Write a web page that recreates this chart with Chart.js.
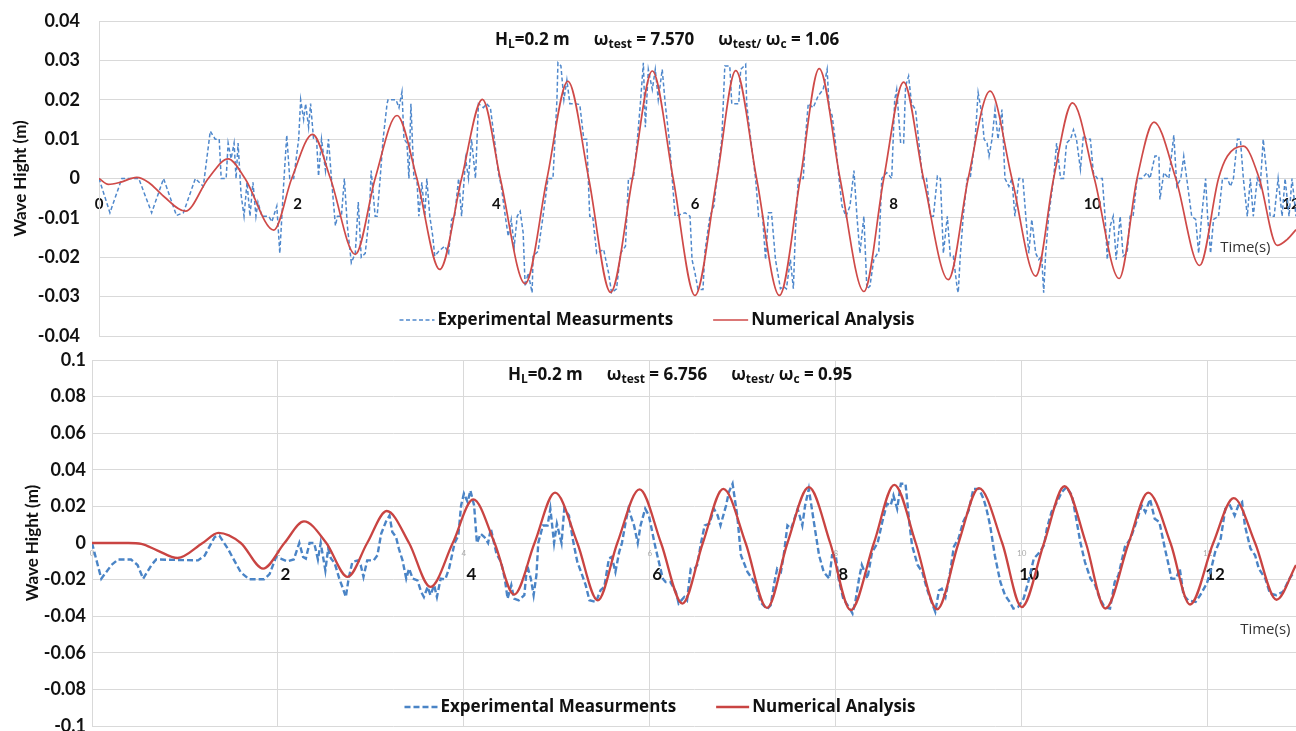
<!DOCTYPE html>
<html lang="en">
<head>
<meta charset="UTF-8">
<title>Wave height - experiment vs numerical analysis</title>
<script src="https://cdn.jsdelivr.net/npm/chart.js@4"></script>
<style>
  body { margin: 0; background: #fff; }
  .panel { position: absolute; left: 0; width: 1296px; }
  #topWrap { top: 0; height: 347px; }
  #bottomWrap { top: 347px; height: 384px; }
</style>
</head>
<body>
<div class="panel" id="topWrap"><canvas id="topChart"></canvas></div>
<div class="panel" id="bottomWrap"><canvas id="bottomChart"></canvas></div>

<script>
const FONT = 'Lato, "Open Sans", sans-serif';
const TEXT_FONT = '"Open Sans", Lato, sans-serif';

// ---- top panel: w_test = 7.570 ----  [time (s), wave height (m)]
const expTop = [[0,0],[0.11,-0.0087],[0.23,0],[0.40,0],[0.53,-0.0087],[0.65,0],[0.78,-0.0094],[0.85,-0.0087],[0.97,0],[1.05,-0.002],[1.12,0.012],[1.17,0.01],[1.21,0.01],[1.23,0],[1.28,0],[1.30,0.009],[1.33,0.005],[1.36,0.009],[1.38,0],[1.40,0.009],[1.43,-0.004],[1.46,-0.0096],[1.49,-0.001],[1.52,-0.0096],[1.55,-0.001],[1.58,-0.0096],[1.60,-0.006],[1.64,-0.0096],[1.71,-0.0096],[1.74,-0.011],[1.79,-0.007],[1.82,-0.019],[1.86,-0.001],[1.89,0.011],[1.92,0],[1.96,0],[2.01,0.01],[2.03,0.02],[2.06,0.015],[2.08,0.019],[2.11,0.013],[2.13,0.019],[2.16,0.01],[2.19,0.01],[2.21,0.0006],[2.24,0.01],[2.28,0.002],[2.31,0.01],[2.34,0],[2.38,-0.012],[2.40,-0.0096],[2.44,-0.0096],[2.47,0],[2.50,-0.012],[2.54,-0.0214],[2.58,-0.019],[2.61,-0.006],[2.64,-0.02],[2.68,-0.019],[2.72,-0.0096],[2.74,0.002],[2.78,-0.0096],[2.80,-0.0096],[2.83,0],[2.86,0.01],[2.90,0.019],[2.91,0.02],[2.99,0.02],[3.02,0.018],[3.05,0.022],[3.07,0.01],[3.10,0.009],[3.12,0],[3.14,0.019],[3.17,0],[3.20,0],[3.22,-0.0096],[3.25,-0.001],[3.28,-0.0096],[3.30,0],[3.33,-0.0096],[3.36,-0.0147],[3.38,-0.0197],[3.42,-0.0185],[3.48,-0.0172],[3.52,-0.019],[3.55,-0.0104],[3.58,-0.0096],[3.62,0],[3.65,-0.0096],[3.69,0.005],[3.72,0],[3.75,0.01],[3.79,0],[3.82,0.019],[3.87,0.018],[3.90,0.019],[3.94,0.018],[3.98,0.01],[4.02,0.0015],[4.05,-0.002],[4.09,-0.0096],[4.12,-0.0147],[4.15,-0.0104],[4.18,-0.0172],[4.21,-0.0096],[4.24,-0.0083],[4.27,-0.0138],[4.29,-0.0274],[4.32,-0.024],[4.36,-0.029],[4.37,-0.0197],[4.42,-0.0185],[4.47,-0.0096],[4.52,0],[4.57,0],[4.61,0.02],[4.62,0.0294],[4.65,0.0286],[4.68,0.02],[4.71,0.025],[4.74,0.019],[4.79,0.019],[4.84,0.0188],[4.88,0.01],[4.91,0.01],[4.94,-0.0096],[4.97,-0.0096],[5.01,-0.019],[5.08,-0.018],[5.13,-0.024],[5.16,-0.029],[5.21,-0.028],[5.25,-0.019],[5.30,-0.0172],[5.33,0],[5.38,0],[5.42,0.01],[5.45,0.019],[5.48,0.0294],[5.50,0.013],[5.53,0.0277],[5.57,0.0226],[5.60,0.0277],[5.63,0.02],[5.67,0.0277],[5.70,0.019],[5.74,0.01],[5.77,0],[5.80,-0.0096],[5.90,-0.0087],[5.95,-0.0096],[5.97,-0.0206],[6.00,-0.024],[6.03,-0.0282],[6.08,-0.0282],[6.10,-0.0185],[6.15,-0.0096],[6.19,-0.007],[6.22,0],[6.27,0.01],[6.30,0.0286],[6.35,0.0286],[6.37,0.019],[6.44,0.019],[6.46,0.0277],[6.51,0.029],[6.52,0.019],[6.56,0.01],[6.61,0],[6.64,-0.0096],[6.68,-0.0096],[6.71,-0.0206],[6.74,-0.0087],[6.77,-0.0087],[6.81,-0.0206],[6.86,-0.028],[6.89,-0.0274],[6.92,-0.028],[6.96,-0.0206],[6.99,-0.028],[7.01,-0.0138],[7.04,0],[7.09,0],[7.11,0.01],[7.14,0.019],[7.19,0.018],[7.24,0.021],[7.29,0.0226],[7.33,0.0277],[7.35,0.018],[7.38,0.016],[7.41,0.01],[7.45,0],[7.48,-0.007],[7.52,-0.0096],[7.56,-0.007],[7.60,0.002],[7.63,-0.0096],[7.66,-0.019],[7.70,-0.0096],[7.73,-0.028],[7.76,-0.0274],[7.80,-0.0206],[7.85,-0.0185],[7.88,0],[7.93,0.0015],[7.98,0],[8.01,0.02],[8.03,0.0226],[8.07,0.009],[8.10,0.009],[8.12,0.0235],[8.15,0.026],[8.18,0.019],[8.22,0.0175],[8.25,0.01],[8.29,0],[8.33,0],[8.37,-0.0096],[8.40,-0.0096],[8.44,0.0006],[8.47,0],[8.50,-0.019],[8.54,-0.0096],[8.57,-0.0197],[8.60,-0.0197],[8.64,-0.028],[8.65,-0.029],[8.67,-0.0197],[8.70,-0.0096],[8.74,0],[8.77,0],[8.82,0.01],[8.85,0.0218],[8.89,0.016],[8.91,0.01],[8.94,0.009],[8.96,0.0057],[8.99,0.01],[9.02,0.0175],[9.05,0.01],[9.09,0.0175],[9.12,0],[9.16,-0.002],[9.19,0],[9.22,-0.0096],[9.26,0],[9.30,0],[9.33,-0.0096],[9.36,-0.019],[9.39,-0.0104],[9.43,-0.019],[9.46,-0.0206],[9.49,-0.0197],[9.51,-0.029],[9.53,-0.019],[9.56,-0.0096],[9.61,0],[9.64,0.009],[9.68,0],[9.71,0],[9.74,0.009],[9.78,0.01],[9.81,0.0124],[9.84,0.01],[9.88,0.0023],[9.91,0.011],[9.94,0.01],[9.98,0.01],[10.01,0.0015],[10.05,0],[10.10,0],[10.13,-0.0104],[10.15,-0.0206],[10.18,-0.012],[10.21,-0.0096],[10.24,-0.0206],[10.28,-0.0096],[10.31,-0.0197],[10.35,-0.019],[10.38,-0.0096],[10.41,-0.0096],[10.45,0],[10.50,0],[10.55,0.0015],[10.58,0],[10.63,0.0057],[10.67,0.0057],[10.68,-0.0053],[10.72,0.0015],[10.77,0],[10.82,0.011],[10.85,-0.002],[10.89,0],[10.92,0.0057],[10.95,0],[11.00,-0.0096],[11.04,-0.0104],[11.07,-0.019],[11.10,-0.0096],[11.14,0],[11.16,-0.0096],[11.19,-0.019],[11.22,-0.0104],[11.27,-0.0096],[11.31,0],[11.36,0],[11.39,-0.002],[11.42,0],[11.46,0.01],[11.49,0.01],[11.52,0],[11.56,-0.0096],[11.59,0],[11.62,-0.0096],[11.66,0],[11.69,-0.002],[11.72,0.01],[11.76,0],[11.79,-0.0096],[11.83,-0.0096],[11.87,0],[11.91,-0.0096],[11.94,0],[11.98,-0.0096],[12.01,0],[12.05,-0.0096]];

const numTop = [[0,0],[0.094,-0.0015],[0.21,-0.001],[0.38,0.0003],[0.50,-0.001],[0.65,-0.0045],[0.87,-0.0083],[1.10,0],[1.30,0.005],[1.47,0],[1.76,-0.0131],[1.94,0],[2.15,0.0112],[2.33,0],[2.58,-0.0193],[2.78,0],[3.00,0.016],[3.20,0],[3.43,-0.0231],[3.65,0],[3.86,0.0201],[4.04,0],[4.29,-0.0267],[4.51,0],[4.72,0.0247],[4.93,0],[5.15,-0.0289],[5.37,0],[5.57,0.0273],[5.78,0],[6.00,-0.0297],[6.22,0],[6.41,0.0274],[6.62,0],[6.85,-0.0297],[7.06,0],[7.25,0.0279],[7.46,0],[7.70,-0.0287],[7.90,0],[8.10,0.0245],[8.30,0],[8.55,-0.0257],[8.75,0],[8.97,0.0222],[9.19,0],[9.43,-0.0248],[9.61,0],[9.80,0.0192],[10.02,0],[10.27,-0.0254],[10.45,0],[10.62,0.0143],[10.84,0],[11.08,-0.0221],[11.27,0],[11.36,0.0057],[11.52,0.0082],[11.68,0],[11.86,-0.017],[11.96,-0.0155],[12.05,-0.013]];

// ---- bottom panel: w_test = 6.756 ----
const expBottom = [[0,0],[0.10,-0.0195],[0.21,-0.012],[0.28,-0.009],[0.42,-0.009],[0.49,-0.012],[0.55,-0.0195],[0.64,-0.012],[0.69,-0.009],[1.14,-0.0095],[1.21,-0.007],[1.32,0.0033],[1.37,0.004],[1.46,-0.003],[1.60,-0.016],[1.69,-0.0198],[1.85,-0.0198],[1.91,-0.017],[1.98,-0.0076],[2.03,-0.0085],[2.10,-0.01],[2.17,-0.009],[2.23,0],[2.27,-0.0076],[2.30,-0.0085],[2.34,0],[2.39,0],[2.43,-0.009],[2.46,0],[2.51,-0.015],[2.54,-0.003],[2.57,-0.0085],[2.61,-0.011],[2.66,-0.0195],[2.70,-0.025],[2.73,-0.0295],[2.76,-0.0195],[2.80,-0.0104],[2.86,-0.0095],[2.89,-0.012],[2.92,-0.0185],[2.96,-0.0095],[3.03,-0.0095],[3.07,-0.0067],[3.11,0.005],[3.16,0.0115],[3.20,0.015],[3.23,0.006],[3.27,0.0033],[3.30,-0.003],[3.34,-0.0095],[3.38,-0.0195],[3.41,-0.014],[3.45,-0.0195],[3.50,-0.0204],[3.54,-0.0267],[3.57,-0.0295],[3.61,-0.024],[3.64,-0.0285],[3.68,-0.0231],[3.71,-0.0295],[3.75,-0.0195],[3.80,-0.0198],[3.84,-0.014],[3.86,-0.0095],[3.90,0],[3.94,0.004],[3.97,0.0205],[4.00,0.027],[4.04,0.0224],[4.07,0.0287],[4.11,0.0205],[4.14,0],[4.18,0.005],[4.22,0.0033],[4.26,0],[4.29,0.0078],[4.35,-0.0058],[4.40,-0.0104],[4.44,-0.0195],[4.47,-0.0304],[4.51,-0.023],[4.54,-0.0304],[4.59,-0.0313],[4.65,-0.0285],[4.68,-0.012],[4.72,-0.0195],[4.75,-0.0285],[4.78,-0.0176],[4.80,0],[4.85,0.0096],[4.90,0.0096],[4.93,0.0187],[4.97,0],[5.00,0.0105],[5.05,0],[5.08,0.0187],[5.13,0.015],[5.17,0.0024],[5.22,-0.0104],[5.26,-0.0158],[5.31,-0.023],[5.35,-0.0313],[5.42,-0.0322],[5.47,-0.0258],[5.51,-0.024],[5.56,-0.0085],[5.59,-0.0076],[5.63,-0.0158],[5.67,-0.005],[5.70,0],[5.74,0.0115],[5.77,0.0187],[5.83,0.0096],[5.87,0],[5.90,0.0096],[5.95,0.0187],[5.99,0.015],[6.05,0],[6.08,-0.0067],[6.14,-0.0195],[6.17,-0.0213],[6.22,-0.0213],[6.28,-0.0267],[6.31,-0.033],[6.37,-0.0295],[6.40,-0.0313],[6.44,-0.014],[6.48,-0.014],[6.51,-0.012],[6.55,0],[6.59,0.0096],[6.64,0.0105],[6.69,0.0187],[6.73,0.015],[6.76,0.0096],[6.82,0.0205],[6.85,0.0278],[6.89,0.0324],[6.94,0.015],[6.98,-0.0067],[7.05,-0.0158],[7.10,-0.0195],[7.14,-0.023],[7.19,-0.0322],[7.26,-0.0362],[7.30,-0.034],[7.34,-0.0213],[7.37,-0.014],[7.41,-0.0158],[7.44,-0.0067],[7.48,0.0096],[7.52,0.0078],[7.59,0.0187],[7.64,0.0096],[7.67,0.0205],[7.71,0.0296],[7.77,0.0096],[7.82,-0.0067],[7.87,-0.0158],[7.93,-0.0195],[7.96,-0.0067],[8.00,-0.0067],[8.03,-0.0195],[8.08,-0.0304],[8.14,-0.035],[8.18,-0.0385],[8.21,-0.0322],[8.25,-0.0195],[8.28,-0.012],[8.34,-0.0195],[8.39,-0.005],[8.45,0],[8.50,0.0115],[8.55,0.0215],[8.59,0.0205],[8.62,0.026],[8.66,0.0187],[8.70,0.0324],[8.75,0.0324],[8.79,0.0115],[8.82,-0.0013],[8.88,-0.012],[8.93,-0.0158],[8.98,-0.025],[9.03,-0.0322],[9.07,-0.0376],[9.11,-0.026],[9.14,-0.025],[9.18,-0.0295],[9.23,-0.0158],[9.27,-0.002],[9.32,0.0024],[9.37,0.0115],[9.43,0.0178],[9.48,0.0296],[9.54,0.0296],[9.59,0.024],[9.62,0.0187],[9.66,0.0096],[9.71,-0.0067],[9.77,-0.0213],[9.82,-0.0285],[9.87,-0.0322],[9.91,-0.0358],[9.96,-0.035],[10.02,-0.0304],[10.07,-0.0213],[10.13,-0.0085],[10.18,-0.0058],[10.24,-0.0013],[10.27,0.0078],[10.32,0.0169],[10.38,0.0224],[10.43,0.0278],[10.48,0.0305],[10.54,0.026],[10.58,0.015],[10.63,0.0005],[10.68,-0.0104],[10.74,-0.0195],[10.79,-0.023],[10.84,-0.0304],[10.89,-0.035],[10.95,-0.0358],[11.00,-0.0213],[11.04,-0.0176],[11.11,-0.002],[11.17,0.0024],[11.22,0.0096],[11.29,0.0205],[11.33,0.0169],[11.38,0.024],[11.43,0.0133],[11.48,0.0115],[11.54,-0.003],[11.58,-0.012],[11.61,-0.0195],[11.66,-0.0195],[11.70,-0.014],[11.74,-0.0285],[11.79,-0.0313],[11.87,-0.0322],[11.92,-0.0285],[11.99,-0.0222],[12.03,-0.0158],[12.08,-0.005],[12.14,0.0024],[12.19,0.0187],[12.24,0.0205],[12.29,0.015],[12.33,0.0205],[12.37,0.0224],[12.40,0.0096],[12.46,-0.003],[12.51,-0.0067],[12.55,-0.014],[12.62,-0.0195],[12.67,-0.0276],[12.74,-0.0285],[12.81,-0.0267],[12.88,-0.0195],[12.93,-0.0158]];

const numBottom = [[0,0],[0.39,0],[0.53,-0.0005],[0.70,-0.004],[0.92,-0.0082],[1.19,0],[1.36,0.0055],[1.60,0],[1.84,-0.014],[2.07,0],[2.28,0.0118],[2.52,0],[2.75,-0.0185],[2.96,0],[3.17,0.0175],[3.41,0],[3.64,-0.024],[3.88,0],[4.10,0.0238],[4.33,0],[4.54,-0.0282],[4.76,0],[4.98,0.0275],[5.22,0],[5.44,-0.0313],[5.65,0],[5.89,0.0293],[6.12,0],[6.35,-0.0331],[6.57,0],[6.79,0.0296],[7.03,0],[7.26,-0.0355],[7.48,0],[7.71,0.0305],[7.94,0],[8.16,-0.0367],[8.41,0],[8.63,0.0318],[8.86,0],[9.09,-0.0362],[9.32,0],[9.54,0.030],[9.79,0],[10.00,-0.035],[10.24,0],[10.46,0.031],[10.69,0],[10.90,-0.0358],[11.15,0],[11.36,0.0275],[11.60,0],[11.81,-0.0336],[12.06,0],[12.28,0.0245],[12.51,0],[12.74,-0.031],[12.95,-0.012]];

const seriesNames = ['Experimental Measurments', 'Numerical Analysis'];
const headingTop = [['H','n'],['L','s'],['=0.2 m','n'],['','g'],['ω','n'],['test','s'],[' = 7.570','n'],['','g'],['ω','n'],['test/','s'],[' ω','n'],['c','s'],[' = 1.06','n']];
const headingBottom = [['H','n'],['L','s'],['=0.2 m','n'],['','g'],['ω','n'],['test','s'],[' = 6.756','n'],['','g'],['ω','n'],['test/','s'],[' ω','n'],['c','s'],[' = 0.95','n']];

const toXY = arr => arr.map(p => ({ x: p[0], y: p[1] }));

// heading with subscripts, line legend and the Time(s) note, drawn inside the plot
const overlay = {
  id: 'overlay',
  afterDatasetsDraw(chart, _args, o) {
    const { ctx, scales } = chart;
    ctx.save();
    ctx.textBaseline = 'middle';
    ctx.textAlign = 'left';
    ctx.fillStyle = '#111';
    const fMain = `bold ${o.headSize}px ${TEXT_FONT}`, fSub = `bold ${o.subSize}px ${TEXT_FONT}`;
    const partW = p => {
      if (p[1] === 'g') return o.gap;
      ctx.font = p[1] === 's' ? fSub : fMain;
      return ctx.measureText(p[0]).width;
    };
    let x = o.headX - o.heading.reduce((s, p) => s + partW(p), 0) / 2;
    o.heading.forEach(p => {
      const w = partW(p);
      if (p[1] !== 'g') ctx.fillText(p[0], x, o.headY + (p[1] === 's' ? o.subDrop : 0));
      x += w;
    });

    ctx.font = `bold ${o.legendSize}px ${TEXT_FONT}`;
    const items = chart.data.datasets.map(d => ({ d, w: ctx.measureText(d.label).width }));
    const legW = items.reduce((s, it) => s + o.sample + o.sampleGap + it.w, 0) + o.itemGap * (items.length - 1);
    x = o.legendX - legW / 2;
    items.forEach(({ d, w }) => {
      ctx.beginPath();
      ctx.setLineDash(d.borderDash || []);
      ctx.lineWidth = d.borderWidth;
      ctx.strokeStyle = d.borderColor;
      ctx.moveTo(x, o.legendY);
      ctx.lineTo(x + o.sample, o.legendY);
      ctx.stroke();
      ctx.setLineDash([]);
      x += o.sample + o.sampleGap;
      ctx.fillText(d.label, x, o.legendY);
      x += w + o.itemGap;
    });

    ctx.font = `${o.noteSize}px ${TEXT_FONT}`;
    ctx.fillStyle = '#333';
    ctx.textAlign = 'center';
    ctx.fillText('Time(s)', scales.x.getPixelForValue(o.noteAt[0]), scales.y.getPixelForValue(o.noteAt[1]));
    ctx.restore();
  }
};

const GRID = '#d9d9d9';
const yLabel = v => String(+v.toFixed(3));

function yAxis(min, max, step, pad, width) {
  return {
    min, max,
    ticks: { stepSize: step, callback: yLabel, padding: pad, color: '#111', font: { family: FONT, size: 18, weight: 'bold' } },
    grid: { color: GRID, drawTicks: false },
    border: { display: true, color: GRID },
    title: { display: true, text: 'Wave Hight (m)', color: '#111', font: { family: FONT, size: 17, weight: 'bold' }, padding: { top: 4, bottom: 0 } },
    afterFit(s) { s.width = width; s.paddingTop = 0; s.paddingBottom = 0; }
  };
}
const noPad = s => { s.paddingLeft = 0; s.paddingRight = 0; };

new Chart(document.getElementById('topChart'), {
  type: 'line',
  data: {
    datasets: [
      { label: seriesNames[0], data: toXY(expTop), borderColor: '#4f88cc', borderWidth: 1.5, borderDash: [4, 2.5], pointRadius: 0, tension: 0, order: 1 },
      { label: seriesNames[1], data: toXY(numTop), borderColor: '#cf4a48', borderWidth: 1.7, pointRadius: 0, cubicInterpolationMode: 'monotone', order: 0 }
    ]
  },
  plugins: [overlay],
  options: {
    responsive: true, maintainAspectRatio: false, animation: false, events: [],
    layout: { padding: { left: 6, top: 21, right: 0, bottom: 11 } },
    scales: {
      x: {
        type: 'linear', min: 0, max: 12.05, position: { y: 0 },
        grid: { display: false, drawTicks: false },
        border: { display: true, color: GRID },
        ticks: { stepSize: 2, includeBounds: false, padding: 17, maxRotation: 0, autoSkip: false, color: '#111', font: { family: FONT, size: 15, weight: 'bold' } },
        afterFit: noPad
      },
      y: yAxis(-0.04, 0.04, 0.01, 19, 93)
    },
    plugins: {
      legend: { display: false },
      tooltip: { enabled: false },
      overlay: {
        heading: headingTop, headX: 667, headY: 40, headSize: 17, subSize: 12, subDrop: 5, gap: 24,
        legendX: 657, legendY: 320, legendSize: 17, sample: 35, sampleGap: 3, itemGap: 40,
        noteSize: 15, noteAt: [11.54, -0.0175]
      }
    }
  }
});

new Chart(document.getElementById('bottomChart'), {
  type: 'line',
  data: {
    datasets: [
      { label: seriesNames[0], data: toXY(expBottom), borderColor: '#4a84c6', borderWidth: 2.4, borderDash: [6, 3], pointRadius: 0, tension: 0, order: 1 },
      { label: seriesNames[1], data: toXY(numBottom), borderColor: '#c94442', borderWidth: 2.3, pointRadius: 0, cubicInterpolationMode: 'monotone', order: 0 }
    ]
  },
  plugins: [overlay],
  options: {
    responsive: true, maintainAspectRatio: false, animation: false, events: [],
    layout: { padding: { left: 18, top: 13, right: 0, bottom: 5 } },
    scales: {
      x: {
        type: 'linear', min: 0, max: 12.95, position: { y: 0 },
        grid: { color: GRID, drawTicks: false },
        border: { display: true, color: GRID },
        ticks: { stepSize: 2, includeBounds: false, padding: 6, maxRotation: 0, autoSkip: false, color: '#aaa', font: { family: FONT, size: 8 } },
        afterFit: noPad
      },
      x2: {
        // the bold labels sit a little right of the grid lines
        type: 'linear', min: -0.08, max: 12.87, position: { y: 0 },
        grid: { display: false, drawTicks: false },
        border: { display: false },
        ticks: { stepSize: 2, includeBounds: false, padding: 21, maxRotation: 0, autoSkip: false, color: '#111', font: { family: FONT, size: 17, weight: 'bold' }, callback: v => (v === 0 ? '' : v) },
        afterFit: noPad
      },
      y: yAxis(-0.1, 0.1, 0.02, 6, 74)
    },
    plugins: {
      legend: { display: false },
      tooltip: { enabled: false },
      overlay: {
        heading: headingBottom, headX: 680, headY: 28, headSize: 17, subSize: 12, subDrop: 5, gap: 24,
        legendX: 660, legendY: 360, legendSize: 17, sample: 33, sampleGap: 3, itemGap: 40,
        noteSize: 15, noteAt: [12.62, -0.0475]
      }
    }
  }
});
</script>
</body>
</html>
